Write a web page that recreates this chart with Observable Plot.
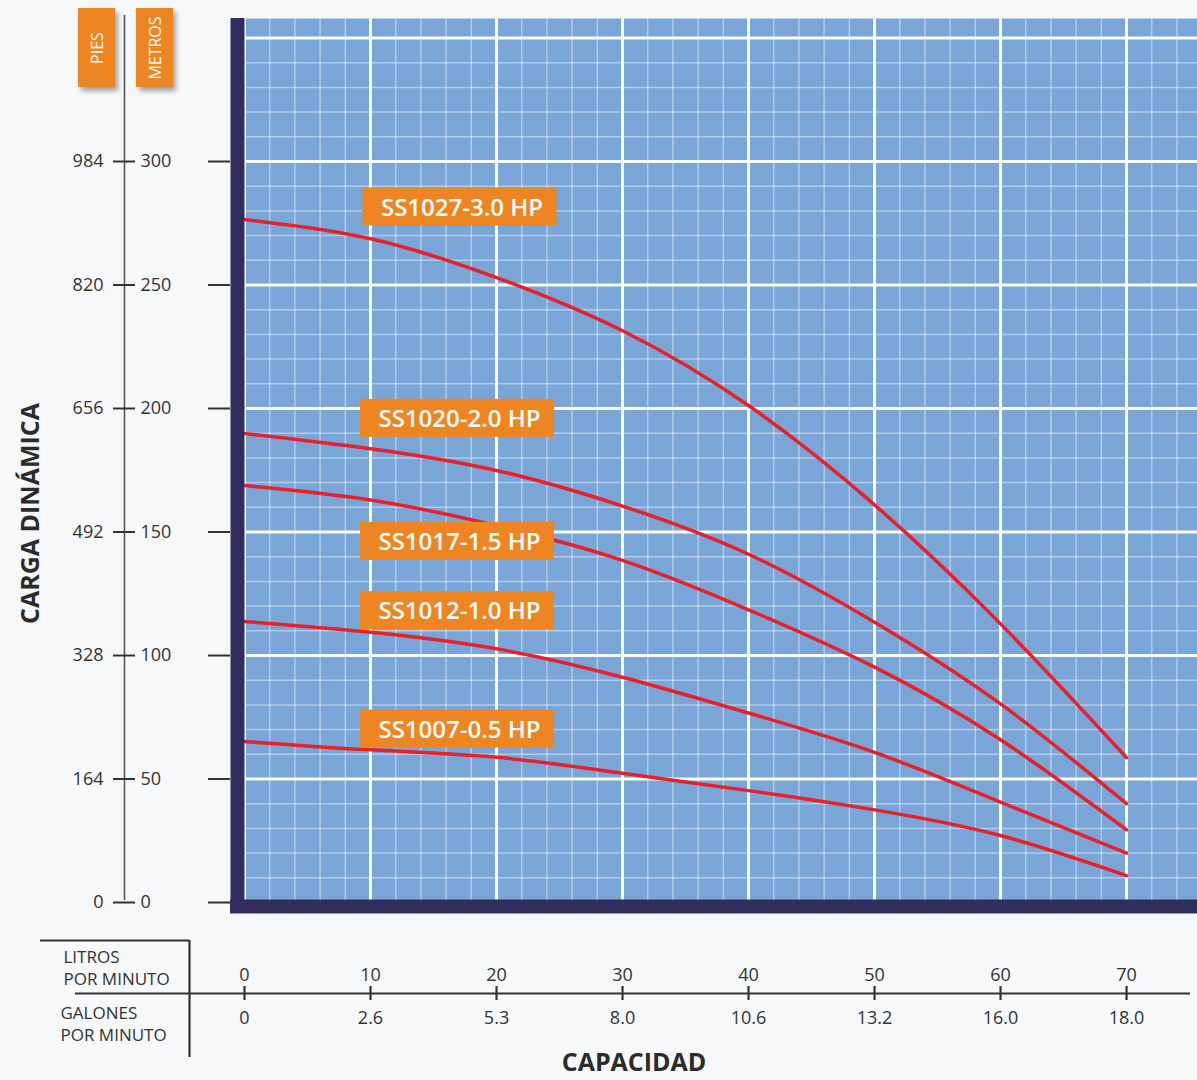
<!DOCTYPE html>
<html>
<head>
<meta charset="utf-8">
<script src="https://cdn.jsdelivr.net/npm/d3@7"></script>
<script src="https://cdn.jsdelivr.net/npm/@observablehq/plot@0.6"></script>
<style>
  html, body { margin: 0; padding: 0; background: #f7f8fa; }
  #wrap { position: relative; width: 1197px; height: 1080px; overflow: hidden; background: #f7f8fa; }
  .unit { position: absolute; top: 8px; width: 37px; height: 79px; background: #ee8523;
          box-shadow: 3px 4px 5px rgba(0,0,0,0.35); color: #fff; font-family: "Open Sans", sans-serif;
          font-size: 16px; display: flex; align-items: center; justify-content: center; }
  .unit span { transform: rotate(-90deg); white-space: nowrap; display: block; }
  svg rect.box { filter: drop-shadow(3px 5px 4px rgba(0,0,0,0.38)); }
</style>
</head>
<body>
<div id="wrap">
  <div class="unit" style="left:78px"><span>PIES</span></div>
  <div class="unit" style="left:136px"><span>METROS</span></div>
</div>
<script>
// ---- data ----
const lpm = [0, 10, 20, 30, 40, 50, 60, 70];
const gpm = ["0", "2.6", "5.3", "8.0", "10.6", "13.2", "16.0", "18.0"];
const metros = [0, 50, 100, 150, 200, 250, 300];
const pies = [0, 164, 328, 492, 656, 820, 984];

const seriesNames = ["SS1027-3.0 HP", "SS1020-2.0 HP", "SS1017-1.5 HP", "SS1012-1.0 HP", "SS1007-0.5 HP"];
const ss1027 = [276.5, 268.7, 253.0, 231.5, 201.2, 161.0, 112.8, 58.6];
const ss1020 = [189.9, 183.7, 174.9, 160.5, 141.0, 113.5, 80.4, 40.0];
const ss1017 = [168.8, 163.0, 152.6, 138.5, 118.5, 95.3, 65.9, 29.4];
const ss1012 = [113.8, 109.4, 102.7, 91.2, 76.7, 60.8, 40.6, 20.0];
const ss1007 = [65.2, 61.8, 58.8, 52.3, 45.3, 37.5, 27.1, 10.9];
const seriesValues = [ss1027, ss1020, ss1017, ss1012, ss1007];

// label anchor (lpm, metros) for each series tag
const labelX = [17.1, 16.9, 16.9, 16.9, 16.9];
const labelY = [281.6, 196.0, 146.2, 118.2, 70.2];

// ---- derived tables ----
const rows = seriesNames.flatMap((name, s) => lpm.map((x, i) => ({name, x, y: seriesValues[s][i]})));
const labels = seriesNames.map((name, i) => ({name, x: labelX[i], y: labelY[i]}));
const minorX = d3.range(0, 76, 2);
const minorY = d3.range(0, 360, 10);
const majorX = d3.range(0, 76, 10);
const majorY = d3.range(0, 360, 50);

const navy = "#2f2e5e";
const ink = "#333";
const numFont = {fontFamily: "'Open Sans', sans-serif", fontSize: 18, fill: ink};

const chart = Plot.plot({
  width: 1197,
  height: 1080,
  marginLeft: 244,
  marginRight: 0,
  marginTop: 18,
  marginBottom: 178,
  style: {background: "transparent", overflow: "visible"},
  x: {domain: [0, 75.63], axis: null},
  y: {domain: [0, 357.9], axis: null},
  marks: [
    Plot.frame({fill: "#79a5d7", stroke: "none"}),
    // minor grid
    Plot.ruleX(minorX, {x: d => d, stroke: "white", strokeOpacity: 0.42, strokeWidth: 1.5}),
    Plot.ruleY(minorY, {y: d => d, stroke: "white", strokeOpacity: 0.42, strokeWidth: 1.5}),
    // major grid
    Plot.ruleX(majorX, {x: d => d, stroke: "white", strokeOpacity: 0.95, strokeWidth: 3}),
    Plot.ruleY(majorY, {y: d => d, stroke: "white", strokeOpacity: 0.95, strokeWidth: 3}),
    // curves
    Plot.line(rows, {x: "x", y: "y", z: "name", stroke: "#e8202a", strokeWidth: 3.5, curve: "natural"}),
    // tags
    Plot.rect(labels, {x1: "x", x2: "x", y1: "y", y2: "y", insetLeft: -97, insetRight: -97,
      insetTop: -19, insetBottom: -19, fill: "#ee8523", className: "box"}),
    Plot.text(labels, {x: "x", y: "y", text: "name", fill: "white", fontSize: 24, fontWeight: 600,
      fontFamily: "'Open Sans', sans-serif", letterSpacing: 0.3, dx: 2, dy: 1}),
    // navy border (left and bottom)
    Plot.ruleX([0], {x: d => d, dx: -7, stroke: navy, strokeWidth: 14, insetBottom: -11}),
    Plot.ruleY([0], {y: d => d, dy: 4, stroke: navy, strokeWidth: 14, insetLeft: -14, insetRight: -10}),
    // short ticks left of plot
    Plot.ruleY(metros, {y: d => d, dx: -36, insetRight: 931, stroke: ink, strokeWidth: 2}),
    // PIES / METROS axis
    Plot.ruleX([0], {x: d => d, dx: -120, insetTop: -3, insetBottom: 2, stroke: "#555", strokeWidth: 1.6}),
    Plot.ruleY(metros, {y: d => d, dx: -131, insetRight: 931, stroke: ink, strokeWidth: 2}),
    Plot.text(metros, {y: d => d, text: d => String(d), frameAnchor: "left", dx: -104, textAnchor: "start", ...numFont}),
    Plot.text(pies, {y: (d, i) => metros[i], text: d => String(d), frameAnchor: "left", dx: -141, textAnchor: "end", ...numFont}),
    Plot.text(["CARGA DINÁMICA"], {frameAnchor: "left", text: d => d, rotate: -90, dx: -214, dy: 53,
      textAnchor: "middle", fontFamily: "'Open Sans', sans-serif", fontWeight: "bold", fontSize: 25, fill: "#2b2b2b"}),
    // capacity axis
    Plot.ruleY([0], {y: d => d, dy: 91, insetLeft: -169, insetRight: 7, stroke: ink, strokeWidth: 2.2}),
    Plot.ruleX(lpm, {x: d => d, dy: 98, insetTop: 870, stroke: ink, strokeWidth: 2.2}),
    Plot.text(lpm, {x: d => d, text: d => String(d), frameAnchor: "bottom", dy: 78, ...numFont}),
    Plot.text(lpm, {x: d => d, text: (d, i) => gpm[i], frameAnchor: "bottom", dy: 121, ...numFont}),
    // unit box lines
    Plot.ruleY([0], {y: d => d, dy: 38, insetLeft: -204, insetRight: 1008, stroke: ink, strokeWidth: 2.2}),
    Plot.ruleX([0], {x: d => d, dx: -55, insetTop: 922, insetBottom: -155, stroke: ink, strokeWidth: 2.2}),
    Plot.text(["LITROS\nPOR MINUTO"], {frameAnchor: "bottom-left", text: d => d, dx: -181, dy: 64,
      textAnchor: "start", lineAnchor: "middle", lineHeight: 1.3, fontFamily: "'Open Sans', sans-serif",
      fontSize: 17, fill: ink, letterSpacing: -0.4}),
    Plot.text(["GALONES\nPOR MINUTO"], {frameAnchor: "bottom-left", text: d => d, dx: -184, dy: 120,
      textAnchor: "start", lineAnchor: "middle", lineHeight: 1.3, fontFamily: "'Open Sans', sans-serif",
      fontSize: 17, fill: ink, letterSpacing: -0.4}),
    Plot.text(["CAPACIDAD"], {frameAnchor: "bottom", text: d => d, dx: -87, dy: 168,
      fontFamily: "'Open Sans', sans-serif", fontWeight: "bold", fontSize: 25, fill: "#2b2b2b"})
  ]
});
chart.style.position = "absolute";
chart.style.left = "0px";
chart.style.top = "0px";
document.getElementById("wrap").prepend(chart);
</script>
</body>
</html>
